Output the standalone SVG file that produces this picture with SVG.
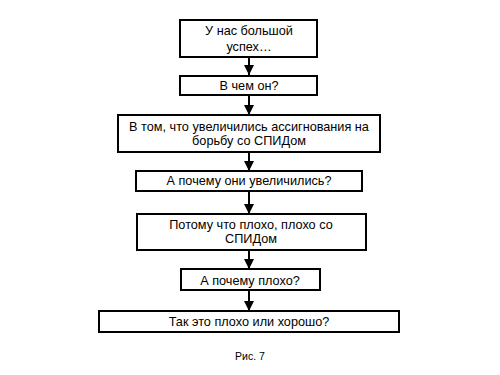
<svg xmlns="http://www.w3.org/2000/svg" width="500" height="375" viewBox="0 0 500 375">
<style>
.b{fill:#fff;stroke:#000;stroke-width:2}
.t{font-family:"Liberation Sans",Arial,sans-serif;font-size:12.7px;fill:#000;text-anchor:middle}
.c{stroke:#000;stroke-width:2;fill:none}
</style>
<defs>
<marker id="a" markerWidth="5" markerHeight="5" refX="5" refY="2.5" orient="auto" markerUnits="strokeWidth">
<path d="M0,0 L5,2.5 L0,5 Z" fill="#000"/>
</marker>
</defs>
<rect width="500" height="375" fill="#fff"/>
<g id="connectors">
<line class="c" x1="249" y1="57" x2="249" y2="75" marker-end="url(#a)"/>
<line class="c" x1="249" y1="95" x2="249" y2="115" marker-end="url(#a)"/>
<line class="c" x1="249" y1="152" x2="249" y2="171" marker-end="url(#a)"/>
<line class="c" x1="249" y1="191" x2="249" y2="214" marker-end="url(#a)"/>
<line class="c" x1="249" y1="250" x2="249" y2="269" marker-end="url(#a)"/>
<line class="c" x1="249" y1="290" x2="249" y2="311" marker-end="url(#a)"/>
</g>
<g id="n1"><rect class="b" x="180" y="20" width="137" height="37"/>
<text class="t" x="249" y="35">У нас большой</text><text class="t" x="249" y="51">успех…</text></g>
<g id="n2"><rect class="b" x="180" y="76" width="137" height="19"/>
<text class="t" x="249" y="90">В чем он?</text></g>
<g id="n3"><rect class="b" x="118" y="115" width="262" height="37"/>
<text class="t" x="249" y="131">В том, что увеличились ассигнования на</text><text class="t" x="249" y="145">борьбу со СПИДом</text></g>
<g id="n4"><rect class="b" x="136" y="171" width="226" height="20"/>
<text class="t" x="249" y="185">А почему они увеличились?</text></g>
<g id="n5"><rect class="b" x="137" y="214" width="229" height="36"/>
<text class="t" x="251" y="229">Потому что плохо, плохо со</text><text class="t" x="251" y="243">СПИДом</text></g>
<g id="n6"><rect class="b" x="181" y="269" width="139" height="21"/>
<text class="t" x="250" y="285">А почему плохо?</text></g>
<g id="n7"><rect class="b" x="99" y="311" width="300" height="21"/>
<text class="t" x="249" y="326">Так это плохо или хорошо?</text></g>
<text class="t" x="250" y="360" style="font-size:10.5px">Рис. 7</text>
</svg>
